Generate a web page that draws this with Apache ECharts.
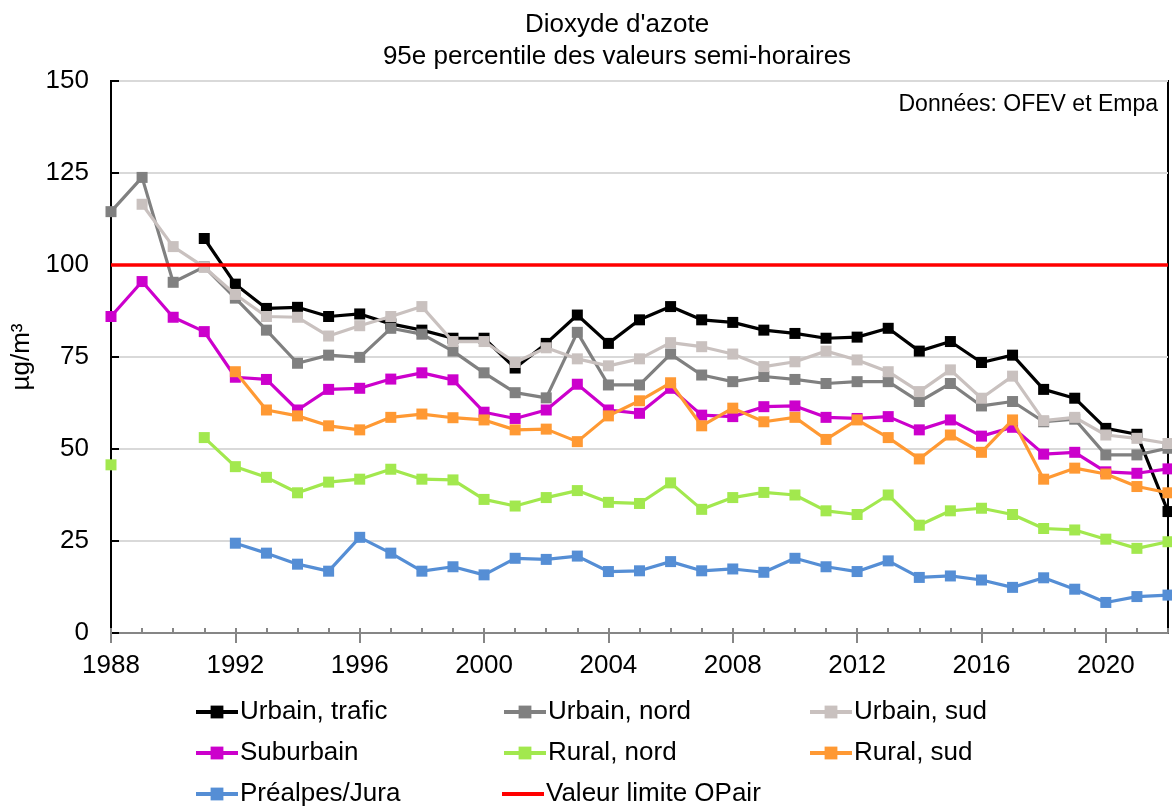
<!DOCTYPE html>
<html>
<head>
<meta charset="utf-8">
<script src="https://cdn.jsdelivr.net/npm/echarts@6/dist/echarts.min.js"></script>
<style>
  html, body { margin: 0; padding: 0; background: #fff; }
  #chart { width: 1172px; height: 808px; }
</style>
</head>
<body>
<div id="chart"></div>
<script>
// annees 1988 - 2022
const years = [];
for (let y = 1988; y <= 2022; y++) years.push(y);

// valeurs (µg/m³), null = pas de mesure
const urbainTrafic = [null, null, null, 107.2, 94.8, 88.2, 88.5, 86.0, 86.7, 84.0, 82.3, 80.1, 80.1, 72.0, 78.7, 86.4, 78.7, 85.1, 88.7, 85.1, 84.4, 82.3, 81.4, 80.1, 80.4, 82.8, 76.6, 79.2, 73.5, 75.5, 66.2, 63.8, 55.6, 54.0, 33.0];
const urbainNord = [114.5, 123.8, 95.3, 99.5, 91.0, 82.3, 73.3, 75.5, 74.9, 82.8, 81.2, 76.6, 70.7, 65.3, 63.9, 81.7, 67.4, 67.4, 75.8, 70.1, 68.3, 69.7, 68.9, 67.8, 68.3, 68.3, 62.9, 67.8, 61.7, 62.9, 57.4, 58.1, 48.4, 48.4, 50.2];
const urbainSud = [null, 116.5, 105.0, 99.4, 92.0, 86.0, 85.8, 80.7, 83.5, 86.0, 88.7, 79.2, 79.2, 73.5, 77.5, 74.5, 72.6, 74.5, 78.9, 77.8, 75.8, 72.4, 73.7, 76.6, 74.2, 71.0, 65.6, 71.5, 63.8, 69.8, 57.7, 58.6, 53.8, 52.9, 51.5];
const suburbain = [86.0, 95.5, 85.8, 81.9, 69.5, 68.9, 60.6, 66.2, 66.5, 69.0, 70.7, 68.8, 60.0, 58.3, 60.6, 67.6, 60.6, 59.7, 66.5, 59.2, 58.8, 61.5, 61.7, 58.6, 58.3, 58.8, 55.2, 57.9, 53.5, 55.9, 48.6, 49.1, 43.8, 43.4, 44.6];
const ruralNord = [45.7, null, null, 53.1, 45.2, 42.3, 38.1, 41.0, 41.8, 44.5, 41.8, 41.6, 36.3, 34.5, 36.8, 38.7, 35.5, 35.2, 40.8, 33.6, 36.8, 38.2, 37.5, 33.2, 32.2, 37.5, 29.3, 33.2, 33.9, 32.2, 28.4, 28.0, 25.5, 23.0, 24.8];
const ruralSud = [null, null, null, null, 71.0, 60.6, 59.0, 56.3, 55.2, 58.6, 59.5, 58.5, 57.9, 55.2, 55.4, 52.0, 59.0, 63.1, 68.0, 56.3, 61.1, 57.4, 58.6, 52.6, 57.9, 53.1, 47.3, 53.8, 49.1, 57.9, 41.8, 44.8, 43.2, 39.8, 38.1];
const prealpesJura = [null, null, null, null, 24.4, 21.7, 18.7, 16.8, 26.0, 21.7, 16.8, 18.0, 15.8, 20.3, 20.0, 20.9, 16.7, 16.9, 19.4, 16.9, 17.4, 16.5, 20.3, 18.0, 16.7, 19.6, 15.1, 15.5, 14.4, 12.4, 15.0, 11.9, 8.3, 9.9, 10.3];
const valeurLimite = 100;

const seriesNames = ['Urbain, trafic', 'Urbain, nord', 'Urbain, sud', 'Suburbain', 'Rural, nord', 'Rural, sud', 'Préalpes/Jura'];
const seriesValues = [urbainTrafic, urbainNord, urbainSud, suburbain, ruralNord, ruralSud, prealpesJura];
const seriesColors = ['#000000', '#808080', '#C9C1BF', '#CC00CC', '#A2E84E', '#FF9933', '#558ED5'];
const limitName = 'Valeur limite OPair';

const font = 'Liberation Sans, Arial, sans-serif';

var myChart = echarts.init(document.getElementById('chart'));

var series = seriesNames.map((name, i) => ({
  name: name,
  type: 'line',
  data: years.map((y, k) => [y, seriesValues[i][k]]),
  connectNulls: false,
  symbol: 'rect',
  symbolSize: 11,
  color: seriesColors[i],
  lineStyle: { width: 3.2 },
  emphasis: { disabled: true },
  z: 3 + i
}));
series.push({
  name: limitName,
  type: 'line',
  data: [[years[0], valeurLimite], [years[years.length - 1], valeurLimite]],
  symbol: 'none',
  color: '#FF0000',
  lineStyle: { width: 3.5 },
  z: 20
});

// legende : 3 colonnes x 3 lignes, une entree par legende
const legendOrder = ['Urbain, trafic', 'Urbain, nord', 'Urbain, sud', 'Suburbain', 'Rural, nord', 'Rural, sud', 'Préalpes/Jura', limitName];
const colLeft = [189, 497, 803];
const rowTop = [693, 734, 775];

var option = {
  animation: false,
  title: [
    {
      text: "Dioxyde d'azote\n95e percentile des valeurs semi-horaires",
      left: 612,
      textAlign: 'center',
      top: 4,
      textStyle: { fontFamily: font, fontSize: 26, fontWeight: 'normal', color: '#000', lineHeight: 32 }
    },
    {
      text: 'Données: OFEV et Empa',
      right: 9,
      top: 88,
      textStyle: { fontFamily: font, fontSize: 23, fontWeight: 'normal', color: '#000' }
    }
  ],
  legend: legendOrder.map((name, i) => {
    const isLimit = name === limitName;
    return {
      data: [name],
      left: colLeft[i % 3],
      top: rowTop[Math.floor(i / 3)],
      itemWidth: 42,
      itemHeight: isLimit ? 4 : 16,
      icon: isLimit ? 'rect' : undefined,
      lineStyle: { width: 4 },
      selectedMode: false,
      textStyle: { fontFamily: font, fontSize: 26, color: '#000', lineHeight: 28, padding: [0, 0, 0, -3] }
    };
  }),
  grid: {
    left: 111,
    right: 4,
    top: 81,
    bottom: 175,
    show: true,
    borderColor: '#000',
    borderWidth: 2
  },
  xAxis: [
    {
      type: 'value',
      min: 1988,
      max: 2022,
      interval: 4,
      axisLine: { show: true, onZero: false, lineStyle: { color: '#868686', width: 2 } },
      axisTick: { show: true, length: 10, lineStyle: { color: '#868686', width: 2 } },
      axisLabel: {
        showMaxLabel: false,
        margin: 20,
        fontFamily: font, fontSize: 26, color: '#000',
        formatter: v => String(v)
      },
      splitLine: { show: false }
    },
    {
      type: 'value',
      min: 1988,
      max: 2022,
      interval: 1,
      position: 'bottom',
      axisLine: { show: false },
      axisTick: { show: true, inside: true, length: 5, lineStyle: { color: '#868686', width: 2 } },
      axisLabel: { show: false },
      splitLine: { show: false }
    }
  ],
  yAxis: {
    type: 'value',
    min: 0,
    max: 150,
    interval: 25,
    name: 'µg/m³',
    nameLocation: 'middle',
    nameGap: 72,
    nameTextStyle: { fontFamily: font, fontSize: 26, color: '#000' },
    axisLine: { show: true, lineStyle: { color: '#000', width: 2 } },
    axisTick: { show: true, inside: true, length: 8, lineStyle: { color: '#000', width: 2 } },
    axisLabel: { margin: 22, fontFamily: font, fontSize: 26, color: '#000' },
    splitLine: { show: true, lineStyle: { color: '#D9D9D9', width: 2 } }
  },
  series: series
};

myChart.setOption(option);
</script>
</body>
</html>
